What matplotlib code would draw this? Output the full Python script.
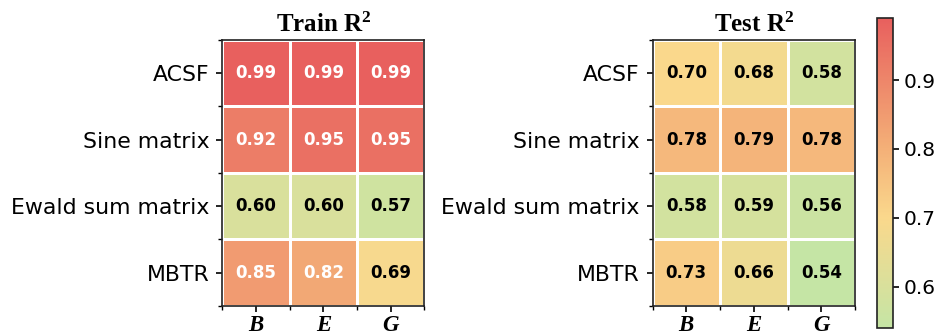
import numpy as np
import matplotlib
matplotlib.use("Agg")
import matplotlib.pyplot as plt
from matplotlib.colors import LinearSegmentedColormap, Normalize

rows = ["ACSF", "Sine matrix", "Ewald sum matrix", "MBTR"]
cols = ["B", "E", "G"]
train_r2 = [[0.99, 0.99, 0.99],
            [0.92, 0.95, 0.95],
            [0.60, 0.60, 0.57],
            [0.85, 0.82, 0.69]]
test_r2 = [[0.70, 0.68, 0.58],
           [0.78, 0.79, 0.78],
           [0.58, 0.59, 0.56],
           [0.73, 0.66, 0.54]]
titles = ["Train R$^2$", "Test R$^2$"]
cbar_ticks = [0.6, 0.7, 0.8, 0.9]

plt.rcParams["mathtext.default"] = "regular"

vmin = min(min(r) for r in train_r2 + test_r2)
vmax = max(max(r) for r in train_r2 + test_r2)
cmap = LinearSegmentedColormap.from_list(
    "gyr",
    [(0.0, "#C5E5A5"), (0.356, "#FAD88C"), (0.6, "#F3AC76"), (1.0, "#E8605E")])
norm = Normalize(vmin=vmin, vmax=vmax)

fig = plt.figure(figsize=(9.46, 3.36), dpi=100)
ax_pos = [[0.2352, 0.0893, 0.2135, 0.792], [0.6898, 0.0893, 0.2140, 0.792]]
cax = fig.add_axes([0.927, 0.0238, 0.0169, 0.9226])

for pos, data, title in zip(ax_pos, [train_r2, test_r2], titles):
    ax = fig.add_axes(pos)
    arr = np.array(data)
    mesh = ax.pcolormesh(np.arange(len(cols) + 1), np.arange(len(rows) + 1), arr,
                         cmap=cmap, norm=norm, edgecolors="white", linewidth=1.8)
    ax.set_xlim(0, len(cols))
    ax.set_ylim(len(rows), 0)
    for i in range(len(rows)):
        for j in range(len(cols)):
            v = arr[i, j]
            ax.text(j + 0.5, i + 0.5, f"{v:.2f}", ha="center", va="center",
                    fontsize=12, fontweight="bold",
                    color="white" if v > 0.8 else "black")
    ax.set_xticks(np.arange(len(cols)) + 0.5)
    ax.set_xticklabels(cols, fontfamily="Liberation Serif", fontweight="bold",
                       fontstyle="italic", fontsize=16.5)
    ax.set_yticks(np.arange(len(rows)) + 0.5)
    ax.set_yticklabels(rows, fontsize=15.8)
    ax.set_xticks(np.arange(len(cols) + 1), minor=True)
    ax.set_yticks(np.arange(len(rows) + 1), minor=True)
    ax.tick_params(which="major", length=4.5, width=1.2)
    ax.tick_params(axis="y", which="major", pad=5)
    ax.tick_params(axis="x", which="major", pad=2)
    ax.tick_params(which="minor", length=3, width=1.0)
    for s in ax.spines.values():
        s.set_linewidth(1.2)
        s.set_color("#222222")
    ax.set_title(title, fontfamily="Liberation Serif", fontweight="bold",
                 fontsize=18, pad=6)

cb = fig.colorbar(mesh, cax=cax)
cb.set_ticks(cbar_ticks)
cb.ax.tick_params(labelsize=14.5, length=4.5, width=1.2)
cb.outline.set_linewidth(1.2)
cb.outline.set_edgecolor("#222222")

fig.savefig("out.png", dpi=100)
